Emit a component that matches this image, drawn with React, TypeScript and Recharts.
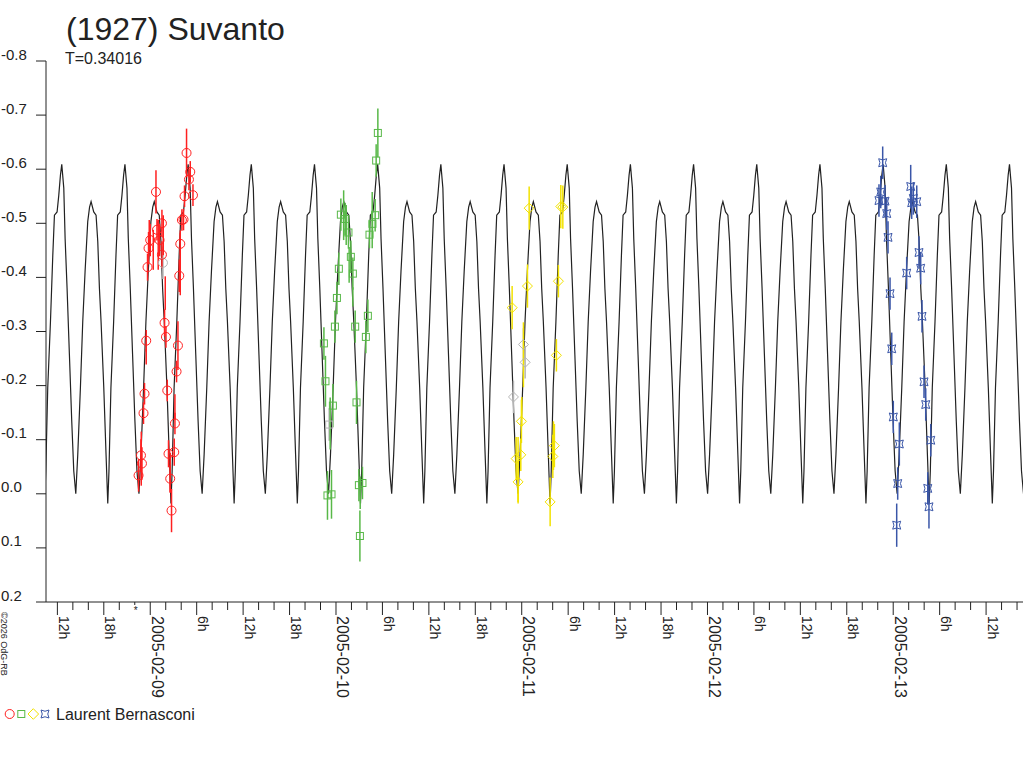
import React from 'react'
import { ComposedChart, Line, Scatter, XAxis, YAxis, ErrorBar } from 'recharts'

// time axis in hours from 2005-02-09 00:00, magnitudes as plotted
const periodDays = 0.34016
const tallPeakHour = 37.55

// one rotation of the fitted curve, phase 0 = the taller maximum
const shapePhase = [0, 0.032, 0.053, 0.084, 0.121, 0.158, 0.19, 0.222, 0.253, 0.295, 0.332, 0.369, 0.411, 0.44, 0.464, 0.506, 0.543, 0.57, 0.596, 0.622, 0.665, 0.701, 0.728, 0.747, 0.778, 0.821, 0.858, 0.884, 0.926, 0.953, 0.979]
const shapeMag = [-0.609, -0.565, -0.472, -0.38, -0.257, -0.134, -0.042, 0.0, -0.072, -0.196, -0.318, -0.411, -0.503, -0.53, -0.54, -0.521, -0.515, -0.466, -0.38, -0.318, -0.196, -0.072, 0.018, -0.042, -0.196, -0.318, -0.441, -0.515, -0.521, -0.552, -0.589]

const redHours = [4.69, 0.74, 5.17, 5.0, 4.43, 5.52, 1.51, 4.3, 4.09, 0.0, -0.22, 0.87, 1.2, 1.51, -0.35, 3.88, 3.75, 1.85, -0.52, 2.03, 3.58, 3.4, -0.74, 2.2, -0.87, 3.19, -1.2, -1.07, 2.36, 3.1, -1.51, 2.58, 2.75]
const redMags = [-0.63, -0.558, -0.595, -0.581, -0.55, -0.552, -0.5, -0.507, -0.506, -0.469, -0.454, -0.488, -0.469, -0.442, -0.419, -0.462, -0.403, -0.316, -0.283, -0.29, -0.274, -0.226, -0.185, -0.191, -0.149, -0.13, -0.071, -0.056, -0.074, -0.077, -0.034, -0.028, 0.031]
const redErrs = [0.045, 0.04, 0.02, 0.02, 0.02, 0.02, 0.025, 0.02, 0.02, 0.03, 0.03, 0.02, 0.03, 0.025, 0.025, 0.02, 0.03, 0.025, 0.02, 0.02, 0.045, 0.02, 0.02, 0.02, 0.02, 0.02, 0.03, 0.03, 0.025, 0.025, 0.03, 0.025, 0.04]
// red measurements whose symbol is hidden under the others (bar only)
const redBarHours = [-0.13, 0.39, 1.03, 1.68, 1.94, 3.88, -0.52, -1.16, 3.19, 2.58]
const redBarMags = [-0.478, -0.451, -0.46, -0.478, -0.371, -0.427, -0.253, -0.065, -0.161, -0.039]
const redBarErrs = [0.028, 0.037, 0.046, 0.037, 0.031, 0.06, 0.014, 0.05, 0.023, 0.037]

const greenHours = [29.41, 29.19, 24.63, 25.19, 25.61, 29.06, 28.71, 28.33, 25.92, 26.18, 24.37, 24.12, 23.86, 26.48, 28.12, 27.86, 22.44, 22.64, 23.6, 26.65, 22.9, 23.42, 26.96, 27.42, 27.09]
const greenMags = [-0.667, -0.616, -0.516, -0.508, -0.483, -0.515, -0.499, -0.479, -0.438, -0.407, -0.416, -0.362, -0.309, -0.309, -0.329, -0.29, -0.278, -0.208, -0.163, -0.169, 0.003, 0.001, -0.016, -0.02, 0.078]
const greenErrs = [0.045, 0.03, 0.03, 0.03, 0.03, 0.03, 0.025, 0.025, 0.03, 0.03, 0.03, 0.03, 0.03, 0.03, 0.03, 0.03, 0.03, 0.047, 0.04, 0.04, 0.045, 0.045, 0.03, 0.03, 0.047]
const greenBarHours = [24.99, 25.32, 28.68, 25.7, 26.18, 23.25, 27.13]
const greenBarMags = [-0.515, -0.497, -0.506, -0.423, -0.364, -0.13, -0.002]
const greenBarErrs = [0.046, 0.037, 0.052, 0.033, 0.018, 0.048, 0.03]

const yellowHours = [48.96, 53.05, 53.31, 48.74, 52.74, 46.76, 52.48, 47.96, 47.28, 47.88, 52.22, 52.02, 47.53, 51.67]
const yellowMags = [-0.528, -0.531, -0.53, -0.384, -0.393, -0.344, -0.256, -0.134, -0.065, -0.072, -0.089, -0.069, -0.022, 0.015]
const yellowErrs = [0.04, 0.04, 0.04, 0.04, 0.03, 0.04, 0.03, 0.04, 0.04, 0.03, 0.04, 0.04, 0.04, 0.045]
const yellowBarHours = [48.22, 48.01, 47.53, 52.1]
const yellowBarMags = [-0.257, -0.152, -0.045, -0.089]
const yellowBarErrs = [0.06, 0.027, 0.06, 0.045]

const blueHours = [94.64, 94.39, 94.16, 94.94, 95.16, 95.33, 95.59, 95.81, 96.01, 96.79, 96.58, 96.45, 98.26, 98.6, 99.04, 98.39, 99.33, 99.55, 97.74, 99.72, 99.98, 100.2, 100.85, 100.46, 100.62]
const blueMags = [-0.612, -0.558, -0.542, -0.541, -0.518, -0.474, -0.37, -0.268, -0.142, -0.092, -0.019, 0.058, -0.568, -0.546, -0.54, -0.538, -0.446, -0.417, -0.408, -0.328, -0.207, -0.165, -0.099, -0.01, 0.024]
const blueErrs = [0.03, 0.03, 0.03, 0.03, 0.03, 0.03, 0.03, 0.03, 0.03, 0.04, 0.03, 0.04, 0.04, 0.03, 0.03, 0.03, 0.03, 0.03, 0.03, 0.03, 0.03, 0.03, 0.03, 0.03, 0.04]

// faint (rejected) points
const greyCircleHours = [1.64]
const greyCircleMags = [-0.427]
const greySquareHours = [23.12]
const greySquareMags = [-0.128]
const greyDiamondHours = [48.22, 48.44, 46.93]
const greyDiamondMags = [-0.276, -0.243, -0.179]

const dateLabels = ['2005-02-09', '2005-02-10', '2005-02-11', '2005-02-12', '2005-02-13']
const magTicks = [-0.8, -0.7, -0.6, -0.5, -0.4, -0.3, -0.2, -0.1, 0.0, 0.1, 0.2]
const hourTicks = Array.from({ length: 63 }, (_, i) => -12 + 2 * i)

const xMin = -13.47
const xMax = 112.77
const plotLeft = 46
const plotBottom = 602
const ink = '#222'
const red = '#ff2020'
const green = '#58b848'
const yellow = '#f2e200'
const blue = '#3a56a8'
const grey = '#b4b4b4'

const pts = (h: number[], m: number[], e?: number[]) =>
  h.map((t, i) => ({ t, m: m[i], e: e ? e[i] : 0.03 }))

const curve: { t: number; m: number }[] = []
const periodHours = periodDays * 24
for (let k = -8; k <= 10; k++) {
  shapePhase.forEach((p, i) => {
    const t = tallPeakHour + (k + p) * periodHours
    if (t >= xMin - periodHours && t <= xMax + periodHours) curve.push({ t, m: shapeMag[i] })
  })
}

const circle = (c: string) => (p: any) => <circle cx={p.cx} cy={p.cy} r={4.5} fill="none" stroke={c} strokeWidth={1} />
const square = (c: string) => (p: any) => <rect x={p.cx - 3.5} y={p.cy - 3.5} width={7} height={7} fill="none" stroke={c} strokeWidth={1} />
const diamond = (c: string) => (p: any) => (
  <path d={`M${p.cx},${p.cy - 5}L${p.cx + 5},${p.cy}L${p.cx},${p.cy + 5}L${p.cx - 5},${p.cy}Z`} fill="none" stroke={c} strokeWidth={1} />
)
const starPath = (x: number, y: number) =>
  `M${x - 4},${y - 4}Q${x},${y - 1.5} ${x + 4},${y - 4}Q${x + 1.5},${y} ${x + 4},${y + 4}Q${x},${y + 1.5} ${x - 4},${y + 4}Q${x - 1.5},${y} ${x - 4},${y - 4}Z`
const star = (c: string) => (p: any) => <path d={starPath(p.cx, p.cy)} fill="none" stroke={c} strokeWidth={1} />
const hidden = () => <g />

function XTick(props: any) {
  const { x, payload } = props
  const v: number = payload.value
  if (v === -2) {
    return (
      <g>
        <line x1={x} x2={x} y1={plotBottom} y2={plotBottom + 3} stroke={ink} />
        <text x={x + 1} y={plotBottom + 12} fontSize={10} textAnchor="middle" fill={ink}>*</text>
      </g>
    )
  }
  const major = v % 6 === 0
  if (!major) return <line x1={x} x2={x} y1={plotBottom} y2={plotBottom + 8} stroke={ink} />
  const hrs = ((v % 24) + 24) % 24
  const isDate = hrs === 0
  const label = isDate ? dateLabels[v / 24] : `${hrs}h`
  return (
    <g>
      <line x1={x} x2={x} y1={plotBottom} y2={plotBottom + 13} stroke={ink} />
      <text transform={`translate(${x + 1.5},${plotBottom + 14}) rotate(90)`} fontSize={isDate ? 16 : 14} fill={ink}>
        {label}
      </text>
    </g>
  )
}

function YTick(props: any) {
  const { y, payload } = props
  const v: number = payload.value
  return (
    <g>
      <line x1={plotLeft - 10} x2={plotLeft} y1={y} y2={y} stroke={ink} />
      <text x={1} y={y - 1.5} fontSize={15} fill={ink}>{v.toFixed(1)}</text>
    </g>
  )
}

export default function App() {
  return (
    <div style={{ position: 'absolute', left: 0, top: 0, width: 1024, height: 768, background: '#fff', fontFamily: 'Arial, "Liberation Sans", sans-serif' }}>
      <ComposedChart width={1024} height={768} margin={{ top: 61, right: 1, bottom: 165, left: plotLeft - 1 }}>
        <XAxis
          type="number"
          dataKey="t"
          domain={[xMin, xMax]}
          allowDataOverflow
          ticks={hourTicks}
          interval={0}
          height={1}
          tickLine={false}
          axisLine={{ stroke: ink }}
          tick={<XTick />}
        />
        <YAxis
          type="number"
          dataKey="m"
          domain={[-0.8, 0.2]}
          reversed
          allowDataOverflow
          ticks={magTicks}
          interval={0}
          width={1}
          tickLine={false}
          axisLine={{ stroke: ink }}
          tick={<YTick />}
        />
        <Line data={curve} dataKey="m" type="linear" stroke={ink} strokeWidth={1.2} dot={false} isAnimationActive={false} />
        <Scatter data={pts(greyCircleHours, greyCircleMags)} dataKey="m" shape={circle(grey)} isAnimationActive={false}>
          <ErrorBar dataKey="e" direction="y" width={0} stroke={grey} />
        </Scatter>
        <Scatter data={pts(greySquareHours, greySquareMags)} dataKey="m" shape={square(grey)} isAnimationActive={false}>
          <ErrorBar dataKey="e" direction="y" width={0} stroke={grey} />
        </Scatter>
        <Scatter data={pts(greyDiamondHours, greyDiamondMags)} dataKey="m" shape={diamond(grey)} isAnimationActive={false}>
          <ErrorBar dataKey="e" direction="y" width={0} stroke={grey} />
        </Scatter>
        <Scatter data={pts(redBarHours, redBarMags, redBarErrs)} dataKey="m" shape={hidden} isAnimationActive={false}>
          <ErrorBar dataKey="e" direction="y" width={0} stroke={red} />
        </Scatter>
        <Scatter data={pts(greenBarHours, greenBarMags, greenBarErrs)} dataKey="m" shape={hidden} isAnimationActive={false}>
          <ErrorBar dataKey="e" direction="y" width={0} stroke={green} />
        </Scatter>
        <Scatter data={pts(yellowBarHours, yellowBarMags, yellowBarErrs)} dataKey="m" shape={hidden} isAnimationActive={false}>
          <ErrorBar dataKey="e" direction="y" width={0} stroke={yellow} />
        </Scatter>
        <Scatter data={pts(redHours, redMags, redErrs)} dataKey="m" shape={circle(red)} isAnimationActive={false}>
          <ErrorBar dataKey="e" direction="y" width={0} stroke={red} />
        </Scatter>
        <Scatter data={pts(greenHours, greenMags, greenErrs)} dataKey="m" shape={square(green)} isAnimationActive={false}>
          <ErrorBar dataKey="e" direction="y" width={0} stroke={green} />
        </Scatter>
        <Scatter data={pts(yellowHours, yellowMags, yellowErrs)} dataKey="m" shape={diamond(yellow)} isAnimationActive={false}>
          <ErrorBar dataKey="e" direction="y" width={0} stroke={yellow} />
        </Scatter>
        <Scatter data={pts(blueHours, blueMags, blueErrs)} dataKey="m" shape={star(blue)} isAnimationActive={false}>
          <ErrorBar dataKey="e" direction="y" width={0} stroke={blue} />
        </Scatter>
      </ComposedChart>
      <svg width={1024} height={768} style={{ position: 'absolute', left: 0, top: 0, pointerEvents: 'none' }}>
        <text x={66} y={39.5} fontSize={32} fill={ink}>(1927) Suvanto</text>
        <text x={65} y={64} fontSize={16} fill={ink}>T=0.34016</text>
        <text transform="translate(1,612) rotate(90)" fontSize={9} fill={ink}>©2026 OdG-RB</text>
        <circle cx={9.7} cy={714} r={4.5} fill="none" stroke={red} />
        <rect x={17.8} y={710.5} width={7} height={7} fill="none" stroke={green} />
        <path d="M33.3,708.7L38.6,714L33.3,719.3L28,714Z" fill="none" stroke={yellow} />
        <path d={starPath(45, 714)} fill="none" stroke={blue} />
        <text x={56} y={719.5} fontSize={16} fill={ink}>Laurent Bernasconi</text>
      </svg>
    </div>
  )
}
